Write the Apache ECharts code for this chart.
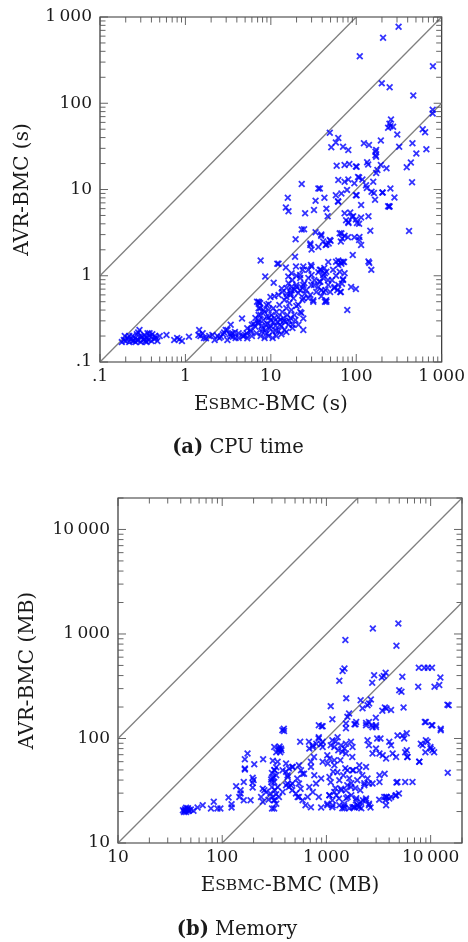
<!DOCTYPE html>
<html><head><meta charset="utf-8">
<script src="https://cdn.jsdelivr.net/npm/echarts/dist/echarts.min.js"></script>
<style>html,body{margin:0;padding:0;background:#fff}#c{width:468px;height:942px}</style>
</head><body><div id="c"></div>
<script>
// ---------- DATA ----------
const cpuRange = [0.1, 1000];
const cpuTickValues = [0.1, 1, 10, 100, 1000];
const cpuTickLabels = ['.1', '1', '10', '100', '1\u2009000'];
const memRange = [10, 20000];
const memTickValues = [10, 100, 1000, 10000];
const memTickLabels = ['10', '100', '1\u2009000', '10\u2009000'];

const cpuDiagonals = [
  [[0.1, 1], [100, 1000]],
  [[0.1, 0.1], [1000, 1000]],
  [[1, 0.1], [1000, 100]]
];
const memDiagonals = [
  [[10, 100], [2000, 20000]],
  [[10, 10], [20000, 20000]],
  [[100, 10], [20000, 2000]]
];

// (Esbmc-BMC, AVR-BMC) CPU time in seconds
const cpuPoints = [
[0.18,0.17],[0.19,0.18],[0.195,0.2],[0.2,0.175],[0.21,0.19],[0.22,0.17],[0.22,0.2],[0.23,0.185],[0.24,0.2],[0.24,0.175],
[0.25,0.178],[0.26,0.19],[0.26,0.17],[0.27,0.21],[0.27,0.18],[0.28,0.18],[0.28,0.22],[0.29,0.235],[0.3,0.17],[0.3,0.2],
[0.31,0.195],[0.32,0.18],[0.33,0.205],[0.33,0.185],[0.34,0.175],[0.35,0.19],[0.35,0.17],[0.36,0.215],[0.37,0.18],[0.38,0.2],
[0.38,0.215],[0.4,0.175],[0.41,0.21],[0.43,0.185],[0.44,0.2],[0.45,0.19],[0.47,0.175],[0.5,0.2],
[0.6,0.206],[0.74,0.18],[0.8,0.19],[0.85,0.183],[0.91,0.175],[1.1,0.196],[1.42,0.206],[1.45,0.235],[1.5,0.2],[1.59,0.215],
[1.65,0.19],[1.74,0.188],[1.9,0.2],[2.07,0.206],[2.2,0.18],[2.37,0.2],[2.6,0.196],[2.84,0.22],[2.96,0.235],[3.1,0.18],
[3.3,0.21],[3.39,0.27],[3.54,0.215],[3.6,0.196],[3.87,0.19],[4.2,0.215],[4.6,0.32],[4.8,0.2],[5.0,0.206],[5.3,0.188],
[5.3,0.246],[5.8,0.224],[6.0,0.27],[6.0,0.2],[6.6,0.257],[7.2,0.29],[7.2,0.5],[7.5,0.48],[7.9,0.224],[8.6,0.27],[9.0,0.215],[7.2,0.42],
[6.6,0.324],[7.0,0.283],[7.6,0.351],[7.8,0.262],[8.2,0.307],[8.45,0.38],[8.7,0.235],[8.9,0.333],[9.2,0.276],[9.4,0.40],
[9.7,0.248],[9.9,0.307],[10.2,0.351],[10.5,0.223],[10.7,0.29],[10.7,0.42],[11,0.324],[11.3,0.262],[11.6,0.38],[11.9,0.29],
[12.3,0.333],[12.3,0.229],[12.6,0.458],[12.9,0.307],[13.3,0.262],[13.6,0.38],[14,0.324],[14.4,0.523],[14.4,0.235],[14.8,0.29],
[15.2,0.42],[15.6,0.351],[16.1,0.27],[16.5,0.483],[17,0.324],[17.4,0.40],[17.9,0.248],[18.4,0.55],[18.9,0.351],[19.4,0.307],
[19.9,0.446],[21,0.27],[22.1,0.38],[23.4,0.523],[6.8,0.215],[7.6,0.2],[8.0,0.24],[8.45,0.19],[9.4,0.2],[10.5,0.19],
[11.6,0.2],[13.3,0.21],[15.2,0.223],[8.9,0.458],[9.9,0.566],[11,0.58],[12.3,0.6],[13.6,0.65],[15.2,0.566],[17,0.63],
[8.2,0.40],[7.2,0.307],[6.3,0.276],[5.8,0.235],[5.2,0.215],[4.7,0.2],[4.2,0.19],[3.8,0.223],[3.4,0.2],[3.1,0.235],[2.75,0.21],[2.5,0.19],
[6.9,0.5],[7.5,0.42],[7.2,0.35],[10,0.26],[11.5,0.23],[12.8,0.27],[14.2,0.3],[9.5,0.33],[16.5,0.3],[18,0.27],
[15.3,0.72],[16.1,0.82],[17,0.6],[17.9,0.89],[18.9,0.685],[19.9,0.78],[21,0.63],[22.1,0.94],[23.4,0.72],[24.1,0.55],
[24.7,0.82],[26,0.685],[27.5,0.94],[29,0.6],[29.8,0.78],[31.4,0.52],[32.3,0.89],[34.1,0.65],[36,0.74],[38,0.85],
[39,0.58],[41,0.94],[43.5,0.685],[44.5,0.52],[47,0.78],[49.5,0.65],[52,0.89],[55,0.72],[58,1.0],[61.6,0.78],
[65,0.65],[70,0.89],[21,0.46],[22.8,0.37],[19.9,1.0],[27.5,1.17],[36,1.1],[42.3,1.23],[47,1.44],[53.5,1.17],
[61.6,1.33],[66,1.44],[72,1.44],
[91,1.74],[139,1.46],[150,1.17],[61.6,1.5],[67,1.38],[70,1.45],[73,1.07],[64,1.11],[66,0.65],[60,0.68],
[70,0.91],[68,0.81],[87,0.74],[99,0.70],[78.5,0.40],[11.9,1.38],[7.6,1.5],[8.6,0.98],[10.8,0.83],[15,1.25],
[19.2,1.66],[19.7,1.28],[23.5,1.17],[29.5,1.33],[30,1.02],[38.5,1.17],[41,1.02],[44.7,1.11],[46.7,0.89],[37,0.85],
[32,0.78],[39,0.68],[41.6,0.65],[44.7,0.50],[24,0.32],[24,0.235],[22,0.68],[17.4,0.74],[7.3,0.49],[9.4,0.47],
[13.4,0.71],[15.4,0.62],[17.5,0.68],[20,0.74],[24,0.78],[25,0.62],[27.4,0.55],[31.4,0.50],[43,0.50],[56,0.74],
[142,1.41],[58,1.45],[43,1.07],[37.5,1.17],[22,1.02],[17.5,1.07],[16,0.98],[12.3,1.38],[30,1.28],[24,1.28],
[24.5,3.45],[19.5,2.65],[33.4,3.2],[38.8,2.9],[44.7,2.3],[49,2.6],[29,2.27],[36,2.16],[64,3.1],[73,2.9],
[68.5,2.7],[95,2.8],[108,2.6],[114,2.27],[29,2.36],[30,2.02],[41,2.49],[50,2.54],[66,2.49],[109,2.82],[43.9,2.27],[47.6,2.37],
[15.8,8.0],[15,6.2],[16.1,5.6],[33.4,7.4],[42.4,8.0],[57.7,8.6],[61.6,7.2],[32,5.8],[44.7,6.0],[46.3,4.9],
[25.2,5.3],[73,5.3],[85,5.4],[92,4.9],[80.7,4.2],[99,4.5],[108,4.0],[114,4.75],[139,4.9],[114,6.6],
[146,3.33],[415,3.3],[76,4.4],[81,4.1],[89,4.8],[102,4.1],[67,3.1],[80,2.8],[39,3.0],[23,3.43],
[23,11.6],[36,10.3],[37.5,10.3],[61.6,12.9],[73,12.3],[80.7,13.1],[95,11.8],[108,13.8],[118,13.1],[158,12.3],
[133,10.4],[78,9.9],[101,8.6],[161,9.1],[204,9.2],[251,10.3],[166,7.6],[236,6.4],[245,6.4],[99,8.6],[67,9.0],[61,7.3],
[73,19.2],[83,19.7],[101,18.4],[134,20.7],[138,19.5],[168,27.4],[168,25],[194,19.2],[226,17.6],[171,15.5],
[59,18.8],[99,18.5],[177,16.8],[436,20.6],[390,18.1],[450,12.1],[505,26.2],[105,14],[130,11.2],[151,9.4],
[57.7,35],[51,30.8],[70,31.3],[80.7,28.7],[123,34.3],[141,32.8],[194,37],[318,31.3],[455,34.3],[662,29.2],
[61.6,39.5],[49,45.6],[171,24],[171,28.8],[280,8.1],[202,9.2],[244,6.3],
[313,770],[206,575],[110,350],[790,268],[199,170],[246,153],[465,123],[785,84],[785,76],[255,65],
[245,58],[251,54],[236,52],[270,53.5],[302,43.5],[600,50],[640,46]
];

// (Esbmc-BMC, AVR-BMC) memory in MB
const memPoints = [
[42,20.6],[43,19.8],[44,21],[43.4,20.2],[44.5,20.6],[45,19.8],[46.5,21],[47,20.2],[48,20.6],[50,20.9],
[53,20.3],[45,21.8],[47,21.5],[58,21.9],[65,23],[83,24.8],[78,21.4],[90,21.4],[96,21.4],[115,27.3],
[123,23.5],[123,21.9],[136,35],[150,32],[150,29.7],[146,27.5],[161,38.4],[161,25.7],[175,72],[165,63.3],
[165,50.4],[165,51.5],[187,25.7],[203,56.8],[196,42],[196,37.6],[196,34],[247,63.3],[236,27.5],[254,32],
[264,30.8],[245,24.8],[278,26],[315,21.4],[306,61.2],[318,49.7],[300,46.7],[310,42.7],[295,40.5],[296,38.4],
[300,34.4],[320,32],[330,29.3],[315,25.7],[305,27.5],[392,118],[350,80],[360,74],[370,77],[355,84],
[410,48],[424,44.5],[424,37],[200,40],[245,33],
[920,131],[1540,125],[1860,137],[1930,144],[2400,134],[2560,144],[2770,128],[2990,134],[560,93],[842,100],
[800,89],[740,83],[685,80],[890,88],[920,93],[1280,103],[1230,93],[1380,86],[1190,83],[1300,77],
[1490,80],[1540,89],[1720,93],[1780,83],[1420,74.5],[1540,72],[2480,96],[2560,86],[3070,100],[3300,100],
[2990,80],[2770,72],[4010,93],[4170,86],[4810,107],[5370,107],[5570,100],[5700,74],[4320,72],[4660,66.5],
[3230,72],[3470,69],[3740,64.5],[6000,66.5],[8360,86],[9000,96],[9340,93],[10000,80],[10800,74],[7770,60],
[12500,120],[10400,134],[9000,144],[14600,47],
[380,49.7],[410,57.6],[475,53.5],[570,49.7],[590,46],[710,53.5],[765,44.5],[890,41.4],[795,37],[685,34.4],
[920,60],[1070,64.5],[1030,57.6],[1160,48],[1070,42.8],
[1193,55.5],[1275,47.6],[1330,39.9],[1390,32],[1452,44.5],[1518,52],[1586,35.7],[1658,41.7],[1733,28.7],[1810,49.7],
[1892,33.5],[1977,39.9],[2067,55.5],[1247,28.7],[1330,23],[1485,21.5],[1658,21.5],[1851,22],[1977,23],[2160,21.5],
[1140,25.7],[1220,33.5],[1360,62],[1552,26.8],[1771,66.5],[1934,26.8],[2113,32],[2208,44.5],[2310,37.3],[1100,38.1],
[1067,28.7],[1421,21.5],[1586,49.7],[1733,37.3],
[2067,49.7],[2400,53.5],[2480,41.4],[2310,35.7],[2560,37],[2770,37],[3230,38.4],[3740,27.5],[4010,26.6],[4660,28.6],
[4960,29.8],[3740,23],[2560,23.8],[2400,26.6],[2240,25.7],[2650,21.9],[1920,25.7],[2000,23],[1850,22],[2070,22],
[3230,44.5],[5700,38.4],[4700,37.9],[3620,46],[1780,49.7],
[1380,33],[1540,32],[1720,34.4],[1600,27.5],[1320,26.6],[1490,23.8],[1150,23],[1020,23.8],[890,21.9],[1070,28.6],
[1190,30.8],[845,27.5],[740,30.8],[660,27.5],[630,23],[545,27.5],[510,29.8],[470,37],[437,34.4],[410,35.7],
[525,41.4],[610,46],[350,27.5],[380,30.8],
[2790,1130],[4900,1260],[1520,875],[4700,770],[1490,468],[1430,443],[1330,356],[2870,403],[2750,341],[3550,396],
[3700,425],[3400,384],[5350,389],[5000,290],[5250,280],[1550,242],[1100,204],[1140,153],[1650,173],[1590,161],
[2220,195],[2130,232],[2670,236],[2570,216],[2480,208],[2980,158],[3640,198],[4170,187],[3770,194],[3440,184],
[5500,198],[7700,474],[8700,474],[9400,474],[10300,474],[12400,384],[7600,312],[10900,312],[12100,325],[14500,210],
[8800,144],[10200,134],[12500,124],[1540,139],[1900,137],[2400,141],[2720,134],[2990,129],[900,131],[390,124],
[5900,112],[14900,208],[9950,83],[8900,74],[10400,77],[8050,89],[7800,60],[6700,38.4],[4800,38.4],[4170,27.5],
[4600,28.4],[3780,27.5],[3680,25.7],[5970,66.5],[5900,77],
[710,22],[1020,23],[1140,22],[1480,22.5],[1780,22],[2050,22.5],[2560,23],[2140,24.7],[2390,25.7],[3210,26],[3590,27.5],
[378,120],[316,83],[350,77],[330,74],[366,80],[340,60],[330,53],[316,50],[330,44.5],[305,41.4],
[316,38.4],[340,34.4],[290,29.7],[316,25.7],[330,23.8],[301,21.4],[437,51.6],[470,53.5],[455,35.7],[470,32],
[545,37],[565,33],[590,25.7],[530,27.5],[425,42.8],[545,55.5],[710,60],[760,66.5],[680,93],[740,86],
[845,134],[920,83],[845,103],[1020,69],[1100,86],[1140,96],[1190,62]
];

// ---------- CHART ----------
const FONT = '"DejaVu Serif", "Liberation Serif", serif';
const TXT = '#1a1a1a';
const FS = 17;
const TS = 20;
const crossPath = 'path://M0,1.8L1.8,0L5,3.2L8.2,0L10,1.8L6.8,5L10,8.2L8.2,10L5,6.8L1.8,10L0,8.2L3.2,5Z';

function labelFmt(vals, labs) {
  return function (v) {
    for (let i = 0; i < vals.length; i++) {
      if (Math.abs(Math.log10(vals[i]) - Math.log10(v)) < 1e-6) return labs[i];
    }
    return '';
  };
}

function tickSeries(idx, dim, range) {
  const data = [];
  const lo = range[0], hi = range[1];
  for (let e = Math.floor(Math.log10(lo)); e <= Math.ceil(Math.log10(hi)); e++) {
    for (let k = 1; k <= 9; k++) {
      const v = k * Math.pow(10, e);
      if (v >= lo * 0.999 && v <= hi * 1.001) {
        data.push(dim === 'x' ? [v, lo, k === 1 ? 1 : 0] : [lo, v, k === 1 ? 1 : 0]);
      }
    }
  }
  return {
    type: 'custom', xAxisIndex: idx, yAxisIndex: idx, silent: true, clip: false, z: 4,
    dimensions: ['a', 'b', 'm'], encode: { x: 0, y: 1 }, data: data,
    renderItem: function (params, api) {
      const major = api.value(2) === 1;
      const len = major ? 8 : 5.5;
      const st = { stroke: '#555', lineWidth: 0.9 };
      if (dim === 'x') {
        const v = api.value(0);
        const p1 = api.coord([v, lo]);
        const p2 = api.coord([v, hi]);
        return { type: 'group', children: [
          { type: 'line', shape: { x1: p1[0], y1: p1[1], x2: p1[0], y2: p1[1] - len }, style: st },
          { type: 'line', shape: { x1: p2[0], y1: p2[1], x2: p2[0], y2: p2[1] + len }, style: st }
        ] };
      } else {
        const v = api.value(1);
        const p1 = api.coord([lo, v]);
        const p2 = api.coord([hi, v]);
        return { type: 'group', children: [
          { type: 'line', shape: { x1: p1[0], y1: p1[1], x2: p1[0] + len, y2: p1[1] }, style: st },
          { type: 'line', shape: { x1: p2[0], y1: p2[1], x2: p2[0] - len, y2: p2[1] }, style: st }
        ] };
      }
    }
  };
}

function axis(type, idx, range, vals, labs, name, nameGap) {
  return {
    type: 'log', logBase: 10, gridIndex: idx, min: range[0], max: range[1],
    name: name, nameLocation: 'middle', nameGap: nameGap,
    nameTextStyle: type === 'x' ? {
      fontFamily: FONT, color: TXT, fontSize: TS,
      rich: { big: { fontFamily: FONT, fontSize: TS, color: TXT }, sc: { fontFamily: FONT, fontSize: 15.5, color: TXT } }
    } : { fontFamily: FONT, color: TXT, fontSize: TS },
    axisLine: { show: false }, axisTick: { show: false }, splitLine: { show: false }, minorTick: { show: false },
    axisLabel: { fontFamily: FONT, color: TXT, fontSize: FS, margin: type === 'x' ? 6 : 8, formatter: labelFmt(vals, labs) }
  };
}

function diagSeries(idx, lines) {
  return lines.map(function (seg) {
    return { type: 'line', xAxisIndex: idx, yAxisIndex: idx, data: seg, symbol: 'none', silent: true, z: 2,
      lineStyle: { color: '#7f7f7f', width: 1.3 }, clip: true };
  });
}

function scatterSeries(idx, pts) {
  return { type: 'scatter', xAxisIndex: idx, yAxisIndex: idx, data: pts, symbol: crossPath, symbolSize: 7,
    itemStyle: { color: '#0000ff' }, z: 3, silent: true };
}

function caption(x, y, label, text) {
  return { type: 'text', x: x, y: y, z: 10, silent: true,
    style: { text: '{b|' + label + '} ' + text, align: 'center', verticalAlign: 'middle',
      fontFamily: FONT, fontSize: 19.5, fill: TXT,
      rich: { b: { fontFamily: FONT, fontSize: 19.5, fontWeight: 'bold', fill: TXT, color: TXT } } } };
}

const chart = echarts.init(document.getElementById('c'), null, { renderer: 'canvas' });
chart.setOption({
  animation: false,
  backgroundColor: '#fff',
  graphic: [caption(238, 448, '(a)', 'CPU time'), caption(237, 930, '(b)', 'Memory')],
  grid: [
    { left: 100, top: 17, width: 345, height: 345, show: true, borderColor: '#333', borderWidth: 1.2, backgroundColor: 'transparent' },
    { left: 118, top: 498, width: 344, height: 345, show: true, borderColor: '#333', borderWidth: 1.2, backgroundColor: 'transparent' }
  ],
  xAxis: [
    axis('x', 0, cpuRange, cpuTickValues, cpuTickLabels, '{big|E}{sc|SBMC}{big|-BMC (s)}', 33),
    axis('x', 1, memRange, memTickValues, memTickLabels, '{big|E}{sc|SBMC}{big|-BMC (MB)}', 33)
  ],
  yAxis: [
    axis('y', 0, cpuRange, cpuTickValues, cpuTickLabels, 'AVR-BMC (s)', 67),
    axis('y', 1, memRange, memTickValues, memTickLabels, 'AVR-BMC (MB)', 80)
  ],
  series: [].concat(
    diagSeries(0, cpuDiagonals),
    diagSeries(1, memDiagonals),
    [scatterSeries(0, cpuPoints), scatterSeries(1, memPoints)],
    [tickSeries(0, 'x', cpuRange), tickSeries(0, 'y', cpuRange), tickSeries(1, 'x', memRange), tickSeries(1, 'y', memRange)]
  )
});
</script></body></html>
